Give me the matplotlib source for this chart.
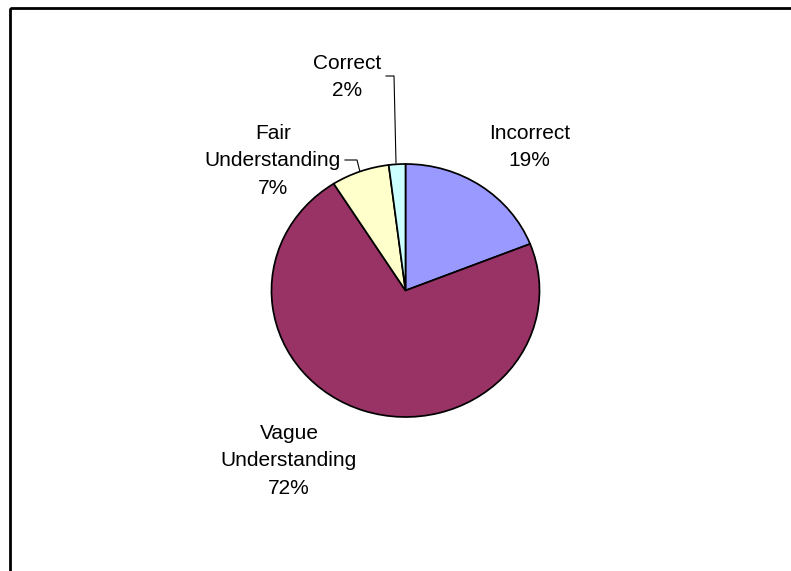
import matplotlib
matplotlib.use("Agg")
import matplotlib.pyplot as plt
from matplotlib.patches import Rectangle

categories = ["Incorrect", "Vague\nUnderstanding", "Fair\nUnderstanding", "Correct"]
values = [19, 72, 7, 2]
colors = ["#9999FF", "#993366", "#FFFFCC", "#CCFFFF"]

W, H = 791, 571
fig = plt.figure(figsize=(W / 100, H / 100), dpi=100)
plt.rcParams['font.family'] = ['Liberation Sans', 'DejaVu Sans']

# overlay axes in pixel coordinates (y downward)
ov = fig.add_axes([0, 0, 1, 1])
ov.set_xlim(0, W)
ov.set_ylim(H, 0)
ov.axis("off")
ov.add_patch(Rectangle((9.5, 8), W + 20, H + 20, fill=False, ec="black", lw=2.0, zorder=1))

# pie axes (slightly elliptical, as in the reference)
cx, cy, rx, ry = 405.5, 290.5, 134, 126.5
ax = fig.add_axes([(cx - rx) / W, (H - cy - ry) / H, 2 * rx / W, 2 * ry / H])
ax.pie(values, colors=colors, startangle=90, counterclock=False, radius=1,
       wedgeprops=dict(edgecolor="black", linewidth=1.25))
ax.set_aspect("auto")
ax.set_xlim(-1, 1)
ax.set_ylim(-1, 1)
ax.axis("off")

pcts = [f"{v}%" for v in values]
label_pos = [(529.5, 147), (289, 461), (273, 161), (347, 77)]
for cat, p, (x, y) in zip(categories, pcts, label_pos):
    ov.text(x, y, f"{cat}\n{p}", ha="center", va="center", fontsize=15,
            linespacing=1.55, color="black")

# leader lines
ov.plot([386, 394, 396], [76, 76, 163], color="black", lw=0.8)
ov.plot([345, 357, 360], [160, 160, 172], color="black", lw=0.8)

fig.savefig("out.png", dpi=100)
